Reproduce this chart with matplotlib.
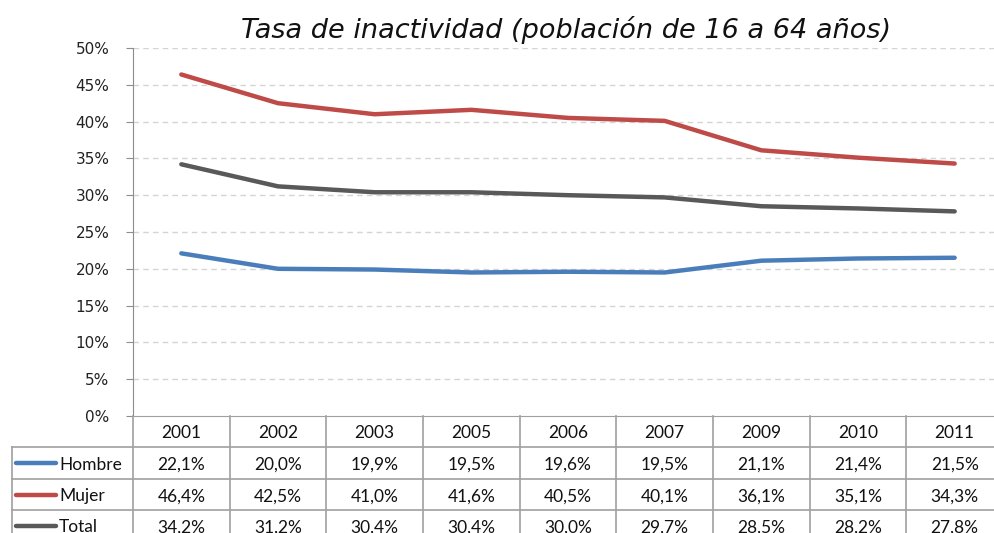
import matplotlib.pyplot as plt
from matplotlib.ticker import PercentFormatter, MultipleLocator
from matplotlib.transforms import blended_transform_factory
from matplotlib.lines import Line2D

years = ['2001', '2002', '2003', '2005', '2006', '2007', '2009', '2010', '2011']
hombre = [22.1, 20.0, 19.9, 19.5, 19.6, 19.5, 21.1, 21.4, 21.5]
mujer = [46.4, 42.5, 41.0, 41.6, 40.5, 40.1, 36.1, 35.1, 34.3]
total = [34.2, 31.2, 30.4, 30.4, 30.0, 29.7, 28.5, 28.2, 27.8]

series = [('Hombre', hombre, '#4a7ebb'),
          ('Mujer', mujer, '#be4b48'),
          ('Total', total, '#595959')]

W, H = 994, 533
fig = plt.figure(figsize=(W / 100, H / 100), dpi=100)

# plot area in pixels (left, top, right, bottom)
px_l, px_t, px_r, px_b = 133, 48, 1003, 416
ax = fig.add_axes([px_l / W, 1 - px_b / H, (px_r - px_l) / W, (px_b - px_t) / H])

x = list(range(len(years)))
for name, vals, col in series:
    ax.plot(x, vals, color=col, linewidth=3.2, solid_capstyle='round', solid_joinstyle='round', zorder=3)

ax.set_xlim(-0.5, len(years) - 0.5)
ax.set_ylim(0, 50)
ax.yaxis.set_major_locator(MultipleLocator(5))
ax.yaxis.set_major_formatter(PercentFormatter(decimals=0))
ax.set_xticks([])
for y in range(5, 51, 5):
    ax.axhline(y, color='#d4d4d4', linewidth=1, linestyle=(0, (4, 3)), zorder=1)

for s in ['top', 'right']:
    ax.spines[s].set_visible(False)
ax.spines['left'].set_color('#8c8c8c')
ax.spines['bottom'].set_color('#a0a0a0')
ax.tick_params(axis='y', length=5, color='#8c8c8c', labelsize=11, labelcolor='#222222', pad=12)

fig.text(566 / W, 1 - 30 / H, 'Tasa de inactividad (población de 16 a 64 años)',
         ha='center', va='center', fontsize=19.5, style='italic', color='#111111')

# Data table under the chart
tr = blended_transform_factory(ax.transData, fig.transFigure)
rows_px = [416, 447, 479, 510, 541]
fy = [1 - p / H for p in rows_px]
dy = 2 / H
grid_col = '#a0a0a0'

# vertical separators between columns
for i in range(len(years) + 1):
    ax.add_line(Line2D([i - 0.5, i - 0.5], [fy[0], fy[-1]], transform=tr,
                       color=grid_col, linewidth=1.2, clip_on=False))
# horizontal row lines
tf = fig.transFigure
for k in range(1, len(fy)):
    fig.add_artist(Line2D([12 / W, px_r / W], [fy[k], fy[k]], transform=tf,
                          color=grid_col, linewidth=1.2))
fig.add_artist(Line2D([12 / W, 12 / W], [fy[1], fy[-1]], transform=tf,
                      color=grid_col, linewidth=1.2))

# header
for i, yr in enumerate(years):
    ax.text(i, (fy[0] + fy[1]) / 2 - dy, yr, transform=tr, ha='center', va='center',
            fontsize=12.5, family='Lato', color='#111111', clip_on=False)

# series rows
for r, (name, vals, col) in enumerate(series):
    yc = (fy[r + 1] + fy[r + 2]) / 2
    fig.add_artist(Line2D([16 / W, 56 / W], [yc, yc], transform=tf, color=col,
                          linewidth=3.2, solid_capstyle='round'))
    fig.text(59 / W, yc - dy, name, ha='left', va='center', fontsize=12.5, family='Lato', color='#111111')
    for i, v in enumerate(vals):
        ax.text(i, yc - dy, f'{v:.1f}%'.replace('.', ','), transform=tr, ha='center', va='center',
                fontsize=12.5, family='Lato', color='#111111', clip_on=False)

fig.savefig('out.png', dpi=100)
